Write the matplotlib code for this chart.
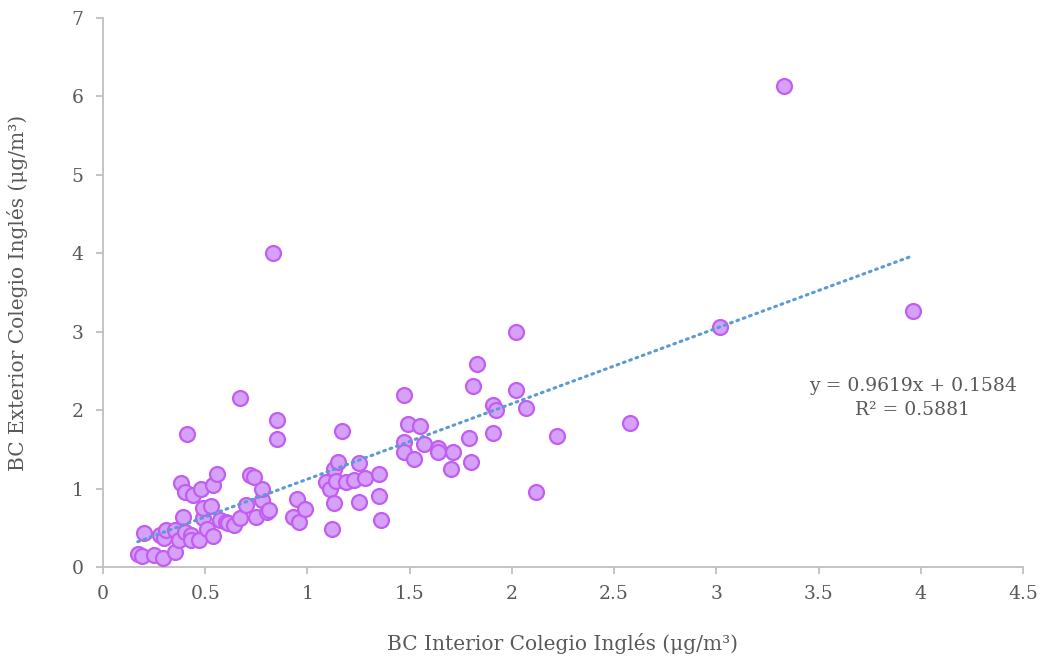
import matplotlib
matplotlib.use("Agg")
import matplotlib.pyplot as plt
import numpy as np

# Data
x_interior = [0.17, 0.19, 0.25, 0.295, 0.35, 0.20, 0.28, 0.30, 0.31, 0.35,
              0.37, 0.40, 0.43, 0.43, 0.47, 0.39, 0.49, 0.49, 0.53, 0.51,
              0.54, 0.57, 0.60, 0.61, 0.64, 0.67, 0.70, 0.75, 0.78, 0.80,
              0.81, 0.78, 0.72, 0.74, 0.38, 0.40, 0.44, 0.48, 0.54, 0.56,
              0.41, 0.67, 0.85, 0.85, 0.83, 0.93, 0.95, 0.96, 0.99, 1.09,
              1.11, 1.13, 1.15, 1.14, 1.19, 1.23, 1.25, 1.28, 1.13, 1.12,
              1.25, 1.35, 1.36, 1.35, 1.17, 1.47, 1.49, 1.55, 1.47, 1.47,
              1.52, 1.57, 1.64, 1.64, 1.71, 1.70, 1.79, 1.80, 1.83, 1.81,
              1.91, 1.92, 1.91, 2.02, 2.07, 2.02, 2.12, 2.22, 2.58, 3.02,
              3.33, 3.96]
y_exterior = [0.16, 0.14, 0.15, 0.12, 0.19, 0.43, 0.41, 0.37, 0.47, 0.47,
              0.34, 0.45, 0.41, 0.34, 0.34, 0.64, 0.62, 0.75, 0.78, 0.48,
              0.39, 0.60, 0.58, 0.56, 0.53, 0.62, 0.79, 0.64, 0.86, 0.70,
              0.73, 1.00, 1.17, 1.15, 1.07, 0.95, 0.92, 1.00, 1.05, 1.19,
              1.69, 2.16, 1.88, 1.63, 4.01, 0.64, 0.87, 0.58, 0.74, 1.09,
              0.99, 1.25, 1.34, 1.10, 1.08, 1.11, 1.32, 1.14, 0.82, 0.49,
              0.83, 0.90, 0.60, 1.19, 1.74, 2.19, 1.82, 1.80, 1.60, 1.46,
              1.38, 1.57, 1.52, 1.47, 1.47, 1.25, 1.65, 1.34, 2.59, 2.31,
              2.06, 2.00, 1.71, 2.26, 2.03, 3.00, 0.96, 1.67, 1.84, 3.06,
              6.13, 3.27]

slope = 0.9619
intercept = 0.1584
trend_x = [0.17, 3.96]
eq_lines = ["y = 0.9619x + 0.1584", "R² = 0.5881"]

x_ticks = [0, 0.5, 1, 1.5, 2, 2.5, 3, 3.5, 4, 4.5]
x_ticklabels = ["0", "0.5", "1", "1.5", "2", "2.5", "3", "3.5", "4", "4.5"]
y_ticks = [0, 1, 2, 3, 4, 5, 6, 7]

plt.rcParams['font.family'] = ['DejaVu Serif']

fig = plt.figure(figsize=(10.47, 6.61), dpi=100)
ax = fig.add_axes([103/1047, 1 - 567/661, (1023-103)/1047, (567-18)/661])

ax.scatter(x_interior, y_exterior, s=115, facecolor='#D6A2F9', edgecolor='#C35CF3',
           linewidth=1.6, zorder=3)

tx = np.array(trend_x)
ax.plot(tx, slope*tx + intercept, color='#5B9BD5', linewidth=2.2,
        linestyle=(0, (0.6, 1.6)), dash_capstyle='round', zorder=4)

ax.text(3.96, 2.31, eq_lines[0], ha='center', va='center', fontsize=13.5, color='#595959')
ax.text(3.96, 2.0, eq_lines[1], ha='center', va='center', fontsize=13.5, color='#595959')

ax.set_xlim(0, 4.5)
ax.set_ylim(0, 7)
ax.set_xticks(x_ticks)
ax.set_xticklabels(x_ticklabels)
ax.set_yticks(y_ticks)

for s in ['top', 'right']:
    ax.spines[s].set_visible(False)
for s in ['left', 'bottom']:
    ax.spines[s].set_color('#BFBFBF')
    ax.spines[s].set_linewidth(1.3)
ax.tick_params(axis='both', colors='#BFBFBF', labelcolor='#595959', labelsize=13.5,
               length=5, width=1.3, direction='out')
ax.tick_params(axis='x', pad=8)
ax.tick_params(axis='y', pad=9)

ax.set_xlabel("BC Interior Colegio Inglés (μg/m³)", fontsize=14.5, color='#595959')
ax.set_ylabel("BC Exterior Colegio Inglés (μg/m³)", fontsize=14.5, color='#595959')
ax.xaxis.set_label_coords((563-103)/920, (567-644)/549)
ax.xaxis.label.set_va('center')
ax.yaxis.set_label_coords((18-103)/920, 0.5)
ax.yaxis.label.set_va('center')

fig.savefig("out.png", dpi=100)
